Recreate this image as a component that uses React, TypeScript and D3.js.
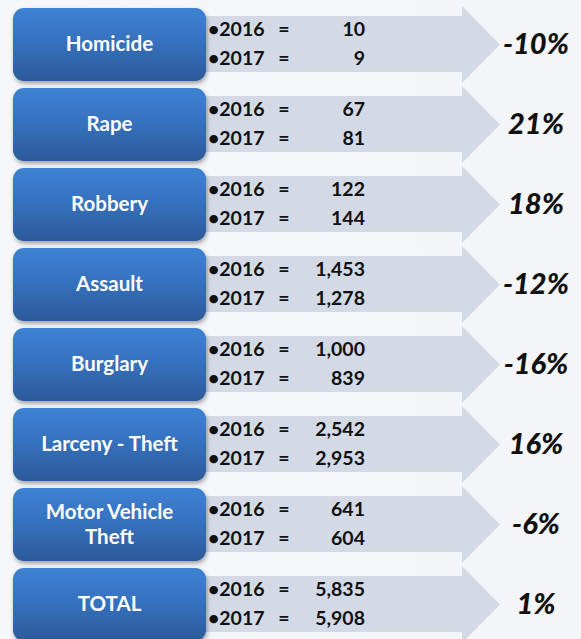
import React from "react";
import * as d3 from "d3";

const categories = ["Homicide", "Rape", "Robbery", "Assault", "Burglary", "Larceny - Theft", "Motor Vehicle Theft", "TOTAL"];
const categoryLines = [["Homicide"], ["Rape"], ["Robbery"], ["Assault"], ["Burglary"], ["Larceny - Theft"], ["Motor Vehicle", "Theft"], ["TOTAL"]];
const years = ["2016", "2017"];
const values2016 = [10, 67, 122, 1453, 1000, 2542, 641, 5835];
const values2017 = [9, 81, 144, 1278, 839, 2953, 604, 5908];

const W = 581;
const H = 639;

export default function App() {
  const y = d3.scaleBand<string>().domain(categories).range([8, 8 + 80 * categories.length]).paddingInner(0);
  const fmt = d3.format(",");
  const pct = (v: number) => d3.format(".0%")(v).replace("\u2212", "-");
  const boxX = 13, boxW = 193, boxH = 73;
  const bandX0 = 200, bandX1 = 462, tipX = 500;

  return (
    <svg width={W} height={H} style={{ position: "fixed", left: 0, top: 0 }} fontFamily="Lato, 'Open Sans', sans-serif">
      <defs>
        <linearGradient id="boxGrad" x1="0" y1="0" x2="0" y2="1">
          <stop offset="0" stopColor="#3f82d3" />
          <stop offset="0.45" stopColor="#3672bf" />
          <stop offset="1" stopColor="#2c5a9a" />
        </linearGradient>
        <linearGradient id="bgGrad" x1="0" y1="0" x2="1" y2="0">
          <stop offset="0" stopColor="#f6f7fa" />
          <stop offset="1" stopColor="#f3f5f8" />
        </linearGradient>
        <filter id="shadow" x="-10%" y="-10%" width="130%" height="140%">
          <feDropShadow dx="1" dy="2.5" stdDeviation="2" floodColor="#000" floodOpacity="0.35" />
        </filter>
      </defs>
      <rect x={0} y={0} width={W} height={H} fill="url(#bgGrad)" />
      {categories.map((c, i) => {
        const top = y(c)!;
        const cy = top + 36;
        const arrow = `M${bandX0},${top + 8} L${bandX1},${top + 8} L${bandX1},${top - 2} L${tipX},${cy + 0.5} L${bandX1},${top + 75} L${bandX1},${top + 64} L${bandX0},${top + 64} Z`;
        const change = (values2017[i] - values2016[i]) / values2016[i];
        const lines = categoryLines[i];
        const lh = 25;
        return (
          <g key={c}>
            <path d={arrow} fill="#d3dae6" />
            <rect x={boxX} y={top} width={boxW} height={boxH} rx={11} ry={11} fill="url(#boxGrad)" filter="url(#shadow)" />
            {lines.map((l, j) => (
              <text key={j} x={boxX + boxW / 2} y={cy + 7 + (j - (lines.length - 1) / 2) * lh} textAnchor="middle" fill="#ffffff" fontWeight={700} fontSize={20.5}>
                {l}
              </text>
            ))}
            {[values2016[i], values2017[i]].map((v, j) => {
              const by = top + 28 + j * 29;
              return (
                <g key={j} fontWeight={700} fontSize={19.5} fill="#111">
                  <text x={208} y={by}>{"\u2022" + years[j]}</text>
                  <text x={284} y={by} textAnchor="middle">=</text>
                  <text x={365} y={by} textAnchor="end">{fmt(v)}</text>
                </g>
              );
            })}
            <text x={536} y={cy + 10} textAnchor="middle" fontWeight={900} fontStyle="italic" fontSize={29} fill="#111">
              {pct(change)}
            </text>
          </g>
        );
      })}
    </svg>
  );
}
